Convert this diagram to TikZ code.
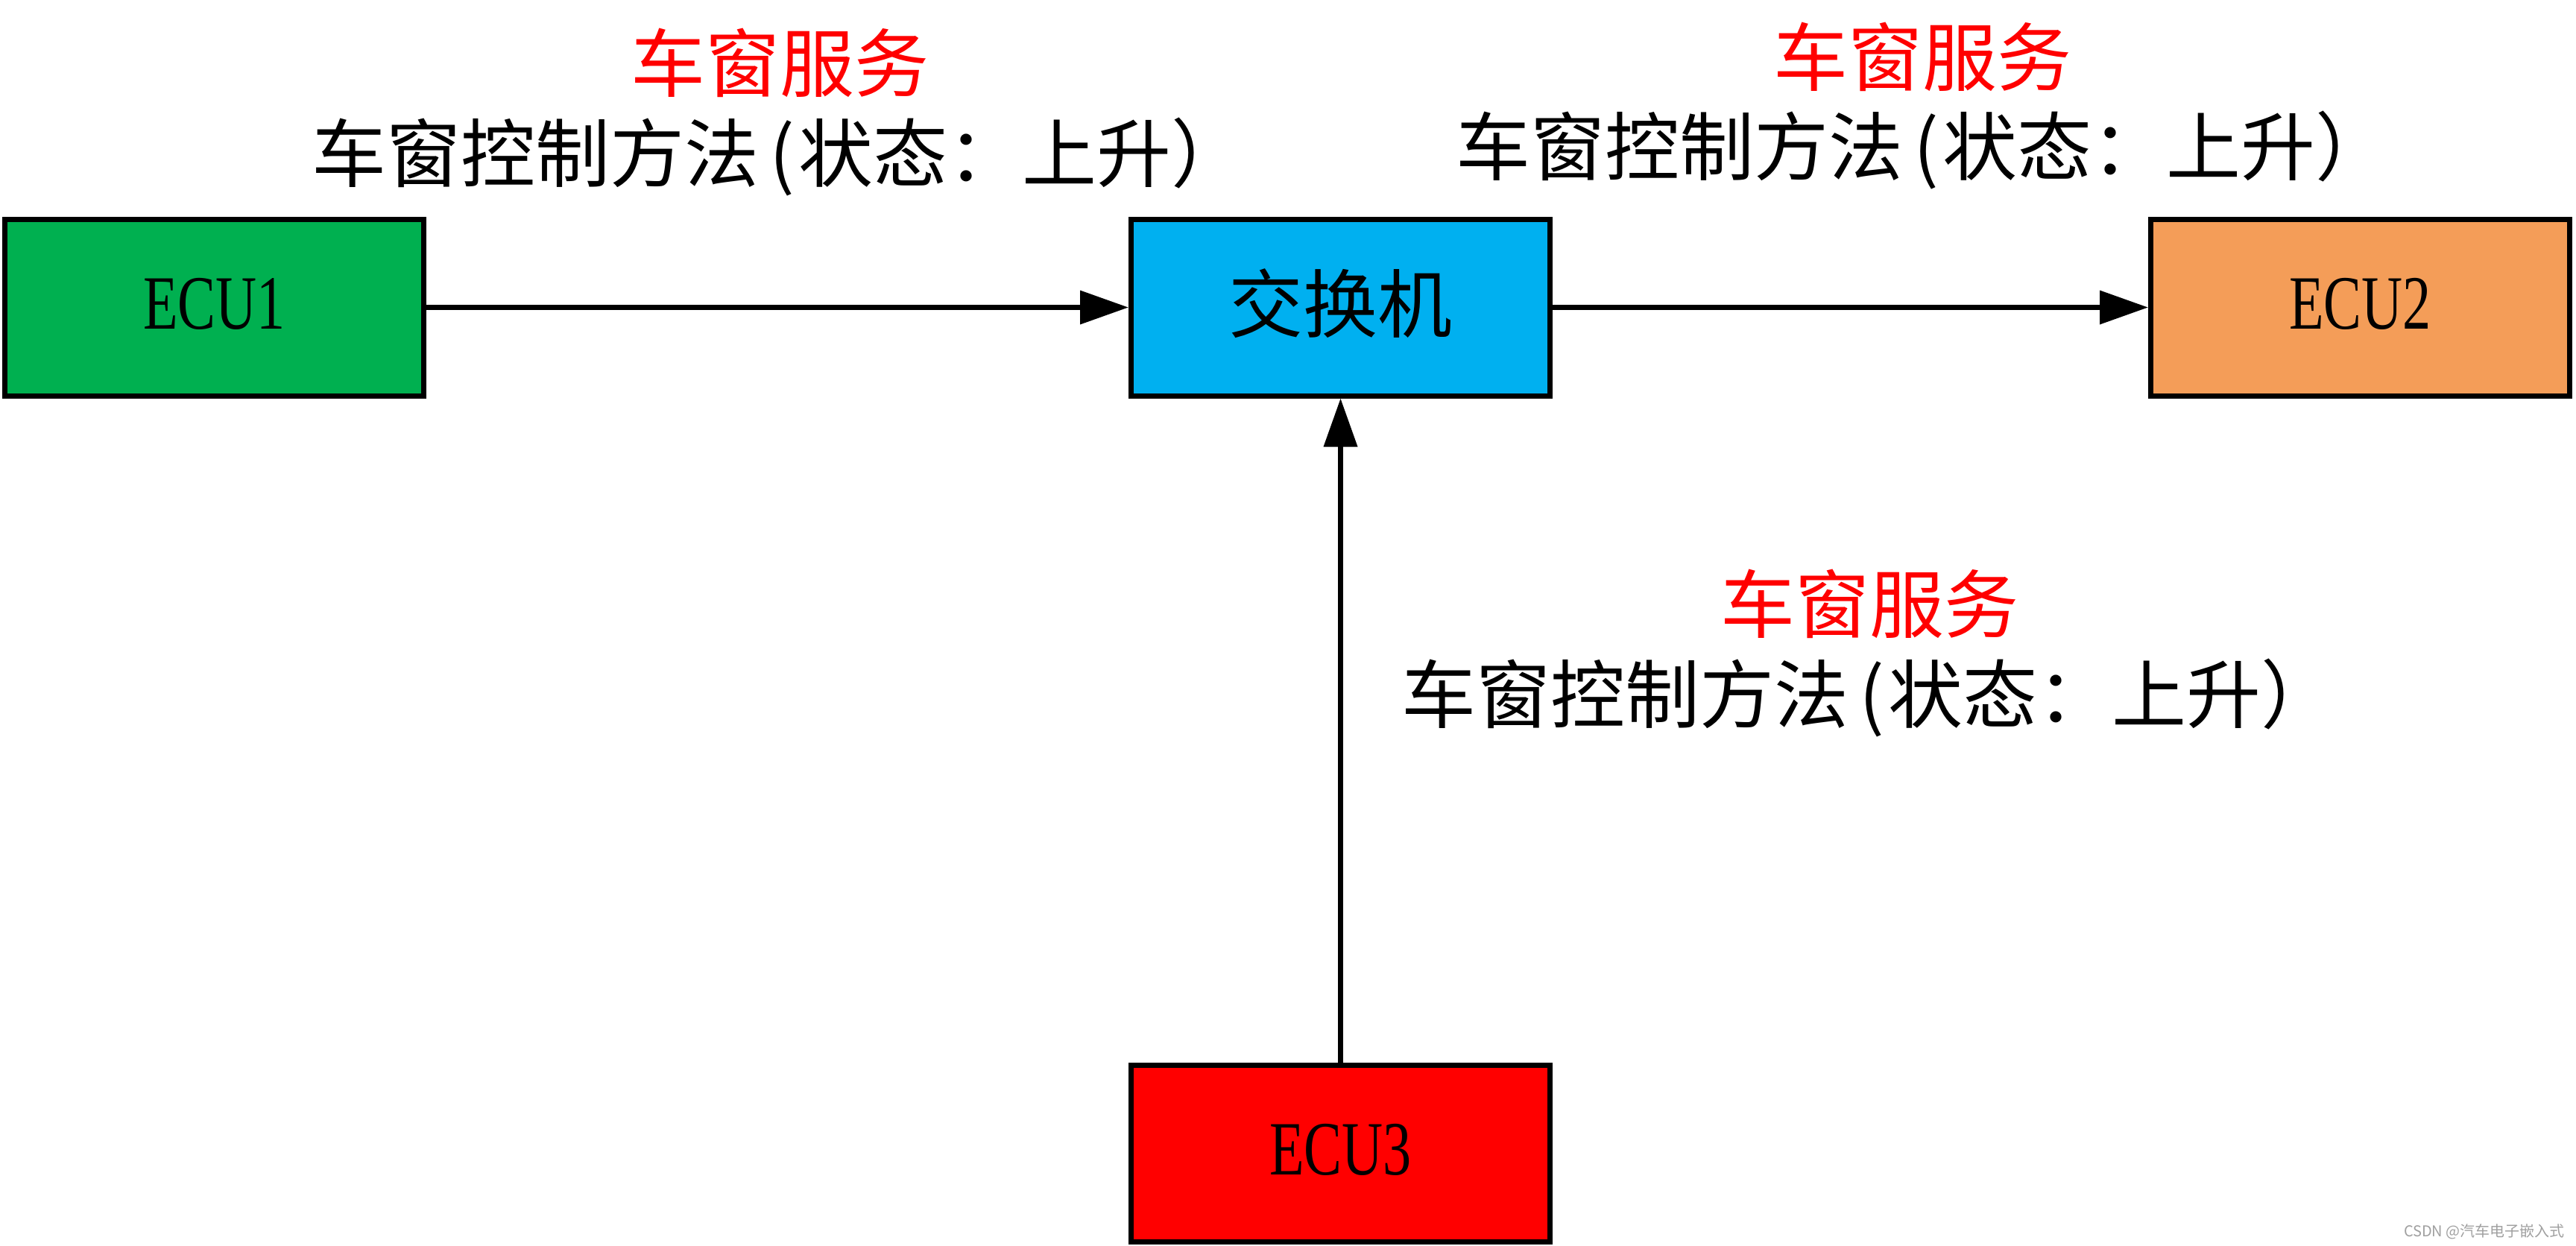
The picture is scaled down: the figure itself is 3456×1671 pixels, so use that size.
\documentclass[tikz,border=0pt]{standalone}
\usepackage{fontspec}
\setmainfont{Liberation Serif}
\newfontfamily\cjk{Noto Sans CJK SC}
\newfontfamily\ecufont[FakeStretch=0.74]{Liberation Serif}
\usetikzlibrary{arrows.meta}
\definecolor{ecugreen}{HTML}{00B050}
\definecolor{swblue}{HTML}{00B0F0}
\definecolor{ecuorange}{HTML}{F49D58}
\definecolor{ecured}{HTML}{FF0000}
\definecolor{wmgray}{HTML}{A0A0A0}
\begin{document}
\begin{tikzpicture}[x=1pt,y=-1pt,
  box/.style={draw=black, line width=7pt, rectangle, inner sep=0pt,
    minimum width=562pt, minimum height=237pt},
  ecutext/.style={font=\ecufont\fontsize{103}{110}\selectfont,
    text height=70pt, text depth=13pt},
  cjktext/.style={font=\cjk\fontsize{100}{110}\selectfont,
    text height=88pt, text depth=23pt},
  arr/.style={line width=7pt, -{Triangle[length=65pt,width=44pt]}},
  svc/.style={font=\cjk\fontsize{100}{110}\selectfont, text=ecured,
    anchor=base west, inner sep=0pt},
  mth/.style={font=\cjk\fontsize{100}{110}\selectfont, text=black,
    anchor=base west, inner sep=0pt},
  wm/.style={font=\cjk\fontsize{20}{24}\selectfont, text=wmgray,
    anchor=base east, inner sep=0pt}]
\useasboundingbox[fill=white] (0,0) rectangle (3456,1671);

\node[box, fill=ecugreen, ecutext] (e1) at (287.5,412.5) {ECU1};
\node[box, fill=swblue, cjktext] (sw) at (1798.5,412.5) {交换机};
\node[box, fill=ecuorange, ecutext] (e2) at (3166.5,412.5) {ECU2};
\node[box, fill=ecured, ecutext] (e3) at (1798.5,1547.5) {ECU3};

\draw[arr] (e1) -- (sw);
\draw[arr] (sw) -- (e2);
\draw[arr] (e3) -- (sw);

\node[svc] (s1) at (846,122) {车窗服务};
\node[mth] (m1) at (418,243) {车窗控制方法\hspace{0.14em}(\hspace{0.06em}状态：上升）};
\node[svc] (s2) at (2379,114) {车窗服务};
\node[mth] (m2) at (1953,234) {车窗控制方法\hspace{0.14em}(\hspace{0.06em}状态：上升）};
\node[svc] (s3) at (2308,848) {车窗服务};
\node[mth] (m3) at (1880,969) {车窗控制方法\hspace{0.14em}(\hspace{0.06em}状态：上升）};

\node[wm] (wmk) at (3441,1659) {CSDN @汽车电子嵌入式};
\end{tikzpicture}
\end{document}
